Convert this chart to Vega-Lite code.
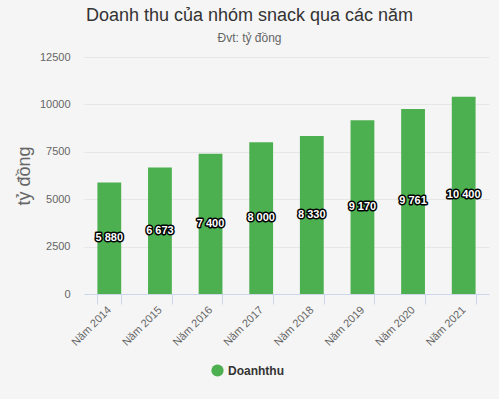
{
  "$schema": "https://vega.github.io/schema/vega-lite/v6.json",
  "width": 405,
  "height": 237,
  "autosize": {"type": "none"},
  "padding": {"left": 84, "top": 57, "right": 10, "bottom": 105},
  "background": "#f5f5f5",
  "config": {
    "view": {"stroke": null},
    "font": "Liberation Sans",
    "locale": {"number": {"decimal": ",", "thousands": " ", "grouping": [3], "currency": ["", " đ"]}}
  },
  "title": {
    "text": "Doanh thu của nhóm snack qua các năm",
    "subtitle": "Đvt: tỷ đồng",
    "fontSize": 18,
    "fontWeight": "normal",
    "color": "#333333",
    "subtitleColor": "#666666",
    "subtitleFontSize": 12,
    "anchor": "middle",
    "frame": "group",
    "dx": -37,
    "offset": 7,
    "subtitlePadding": 8
  },
  "data": {
    "values": [
      {"year": "Năm 2014", "value": 5880},
      {"year": "Năm 2015", "value": 6673},
      {"year": "Năm 2016", "value": 7400},
      {"year": "Năm 2017", "value": 8000},
      {"year": "Năm 2018", "value": 8330},
      {"year": "Năm 2019", "value": 9170},
      {"year": "Năm 2020", "value": 9761},
      {"year": "Năm 2021", "value": 10400}
    ]
  },
  "encoding": {
    "x": {
      "field": "year",
      "type": "nominal",
      "sort": null,
      "title": null,
      "scale": {"paddingInner": 0.53, "paddingOuter": 0.265},
      "axis": {
        "labelAngle": -45,
        "labelAlign": "right",
        "labelBaseline": "middle",
        "tickBand": "extent",
        "domainColor": "#ccd6eb",
        "tickColor": "#ccd6eb",
        "tickSize": 10,
        "labelColor": "#666666",
        "labelFontSize": 11,
        "labelPadding": 4,
        "grid": false
      }
    }
  },
  "layer": [
    {
      "mark": {"type": "bar", "color": "#4caf50"},
      "encoding": {
        "y": {
          "field": "value",
          "type": "quantitative",
          "scale": {"domain": [0, 12500], "nice": false},
          "axis": {
            "title": "tỷ đồng",
            "values": [0, 2500, 5000, 7500, 10000, 12500],
            "format": "d",
            "domain": false,
            "ticks": false,
            "labelPadding": 14,
            "labelColor": "#666666",
            "labelFontSize": 11,
            "gridColor": "#e6e6e6",
            "titleFontSize": 18,
            "titleFontWeight": "normal",
            "titleColor": "#666666",
            "titlePadding": 6
          }
        },
        "color": {
          "datum": "Doanhthu",
          "scale": {"range": ["#4caf50"]},
          "legend": {
            "orient": "none",
            "legendX": 127,
            "legendY": 307,
            "direction": "horizontal",
            "title": null,
            "symbolType": "circle",
            "symbolSize": 150,
            "symbolStrokeWidth": 0,
            "labelFontSize": 12,
            "labelFontWeight": "bold",
            "labelColor": "#333333"
          }
        }
      }
    },
    {
      "mark": {"type": "text", "fontSize": 11, "fontWeight": "bold", "fill": "#ffffff", "stroke": "#000000", "strokeWidth": 3, "strokeJoin": "round"},
      "encoding": {
        "y": {"field": "value", "type": "quantitative", "scale": {"domain": [0, 25000], "nice": false}, "axis": null},
        "text": {"field": "value", "type": "quantitative", "format": ",d"}
      }
    },
    {
      "mark": {"type": "text", "fontSize": 11, "fontWeight": "bold", "fill": "#ffffff"},
      "encoding": {
        "y": {"field": "value", "type": "quantitative", "scale": {"domain": [0, 25000], "nice": false}, "axis": null},
        "text": {"field": "value", "type": "quantitative", "format": ",d"}
      }
    }
  ],
  "resolve": {"scale": {"y": "independent"}}
}
